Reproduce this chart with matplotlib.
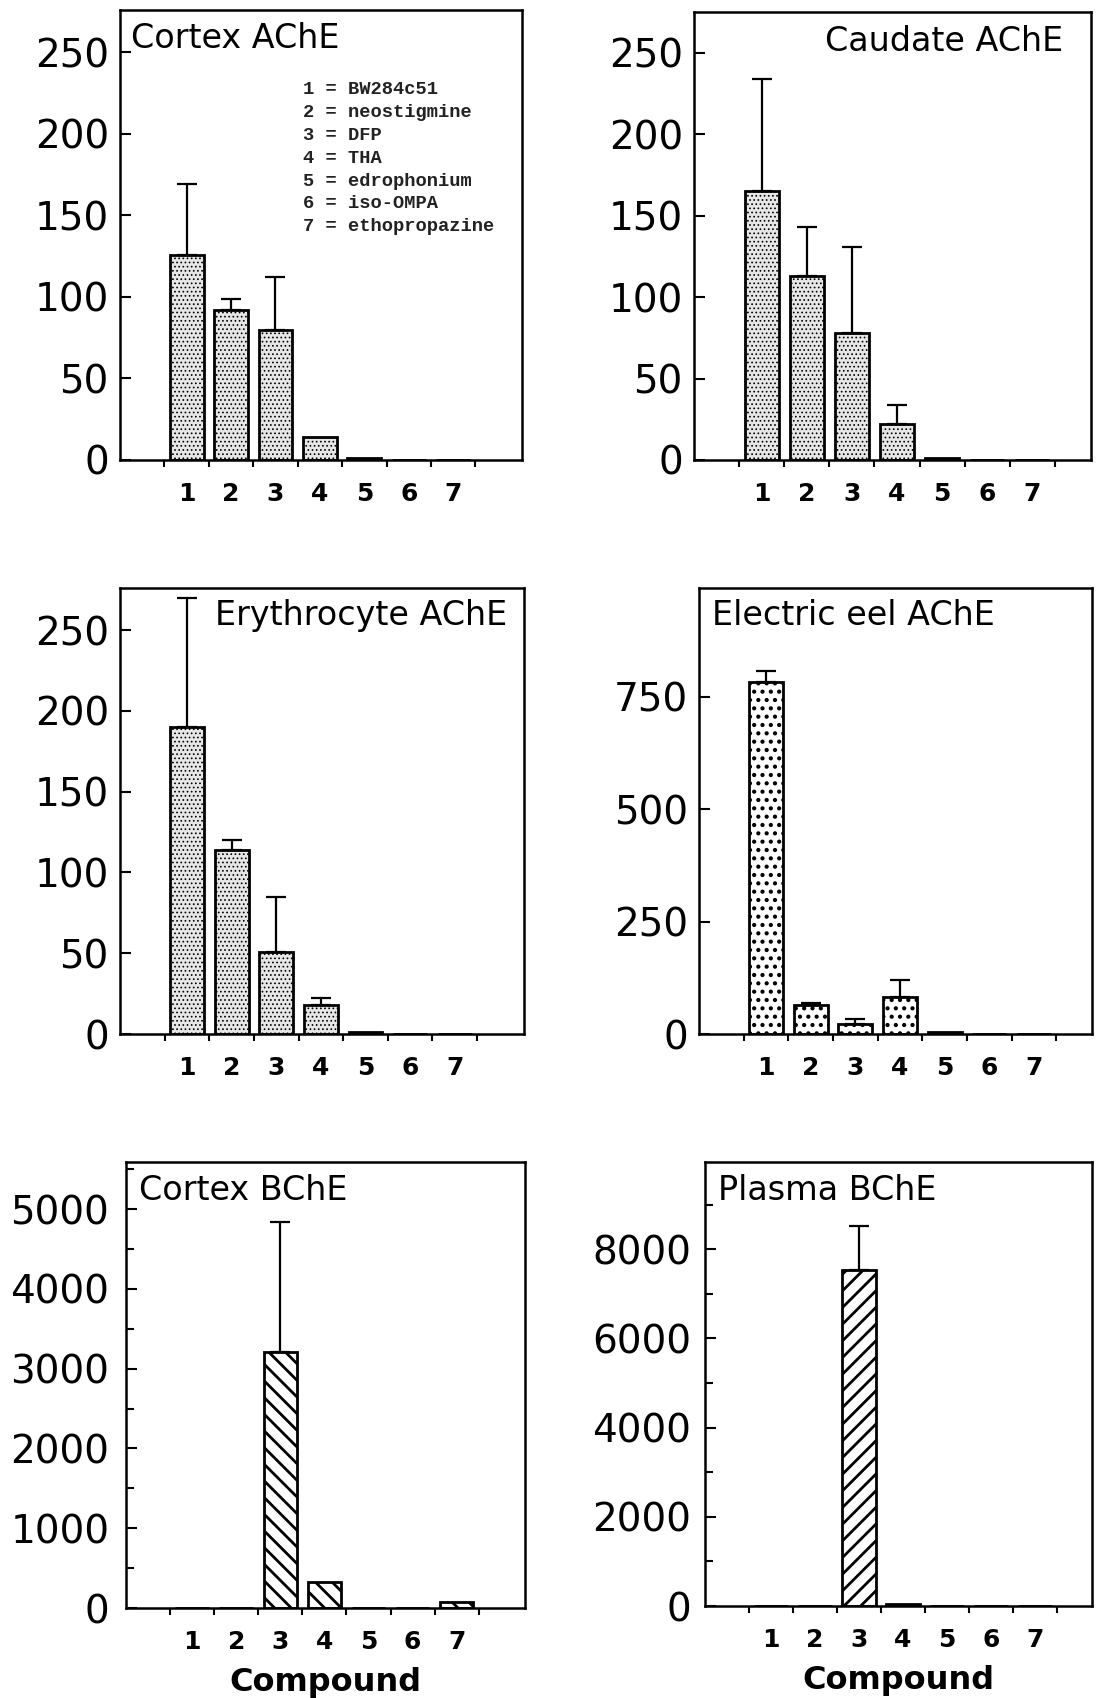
import numpy as np
import matplotlib.pyplot as plt
from matplotlib.ticker import FixedLocator, MultipleLocator

plt.rcParams['font.family'] = ['DejaVu Sans']

# compound numbers and the key shown in the first panel
compounds = ['1', '2', '3', '4', '5', '6', '7']
compound_names = ['BW284c51', 'neostigmine', 'DFP', 'THA',
                  'edrophonium', 'iso-OMPA', 'ethopropazine']

# values (mean, upper error)
cortex_ache = [126, 92, 80, 14, 1, 0, 0]
cortex_ache_err = [43, 7, 32, 0, 0, 0, 0]

caudate_ache = [165, 113, 78, 22, 1, 0, 0]
caudate_ache_err = [69, 30, 53, 12, 0, 0, 0]

erythro_ache = [190, 114, 51, 18, 1, 0, 0]
erythro_ache_err = [80, 6, 34, 4, 0, 0, 0]

eel_ache = [783, 65, 22, 83, 5, 0, 0]
eel_ache_err = [24, 3, 11, 37, 0, 0, 0]

cortex_bche = [0, 0, 3204, 320, 0, 0, 75]
cortex_bche_err = [0, 0, 1633, 0, 0, 0, 0]

plasma_bche = [0, 0, 7530, 40, 0, 0, 0]
plasma_bche_err = [0, 0, 1000, 0, 0, 0, 0]

W, H = 1097, 1698
fig = plt.figure(figsize=(W / 100, H / 100), dpi=100)
fig.patch.set_facecolor('white')


def make_axes(left, right, top, bottom):
    return fig.add_axes([left / W, 1 - bottom / H, (right - left) / W, (bottom - top) / H])


def draw_panel(ax, values, errs, hatch, face, ylim, yticks, xlim, minor=None, ypad=8, hlw=1.0):
    x = np.arange(1, len(values) + 1)
    vals = np.array(values, dtype=float)
    errs = np.array(errs, dtype=float)
    with plt.rc_context({'hatch.linewidth': hlw}):
        bars = ax.bar(x, vals, width=0.76, color=face, edgecolor='black',
                      linewidth=2.0, hatch=hatch, zorder=2)
    for b in bars:
        if hasattr(b, 'set_hatch_linewidth'):
            b.set_hatch_linewidth(hlw)
    m = errs > 0
    ax.errorbar(x[m], vals[m], yerr=[np.zeros(m.sum()), errs[m]], fmt='none',
                ecolor='black', elinewidth=1.6, capsize=7, capthick=1.6, zorder=3)

    ax.set_xlim(*xlim)
    ax.set_ylim(0, ylim)
    ax.set_yticks(yticks)
    if minor:
        ax.yaxis.set_minor_locator(MultipleLocator(minor))
    ax.tick_params(axis='y', which='major', direction='in', length=8, width=1.5,
                   labelsize=28, pad=ypad)
    ax.tick_params(axis='y', which='minor', direction='in', length=6, width=1.5)

    ax.xaxis.set_major_locator(FixedLocator(x))
    ax.set_xticklabels(compounds, fontsize=18, fontweight='bold')
    ax.xaxis.set_minor_locator(FixedLocator(np.arange(0.5, len(values) + 1, 1)))
    ax.tick_params(axis='x', which='major', length=0, pad=16)
    ax.tick_params(axis='x', which='minor', direction='out', length=5, width=1.5)
    for s in ax.spines.values():
        s.set_linewidth(1.8)


def title(ax, text, inset, down, right=False):
    # inset / down in pixels from the frame corner
    if right:
        ax.annotate(text, xy=(1, 1), xycoords='axes fraction',
                    xytext=(-inset * 0.72, -down * 0.72), textcoords='offset points',
                    ha='right', va='top', fontsize=24)
    else:
        ax.annotate(text, xy=(0, 1), xycoords='axes fraction',
                    xytext=(inset * 0.72, -down * 0.72), textcoords='offset points',
                    ha='left', va='top', fontsize=24)


left_x = (-0.5, 8.55)
right_x = (-0.5, 8.3)
small_ticks = [0, 50, 100, 150, 200, 250]

ax1 = make_axes(120, 522, 10, 460)
draw_panel(ax1, cortex_ache, cortex_ache_err, '....', '#e6e6e6', 276, small_ticks, left_x, hlw=0.7)
title(ax1, 'Cortex AChE', 11, 12)
for i, (num, name) in enumerate(zip(compounds, compound_names)):
    ax1.annotate(f'{num} = {name}', xy=(0, 1), xycoords='axes fraction',
                 xytext=(183 * 0.72, -(80 + 22.8 * i) * 0.72), textcoords='offset points',
                 ha='left', va='center', fontsize=13.5, family='Liberation Mono',
                 fontweight='bold', color='#222222')

ax2 = make_axes(694, 1091, 12, 460)
draw_panel(ax2, caudate_ache, caudate_ache_err, '....', '#e6e6e6', 275, small_ticks, right_x, hlw=0.7)
title(ax2, 'Caudate AChE', 28, 13, right=True)

ax3 = make_axes(120, 524, 588, 1034)
draw_panel(ax3, erythro_ache, erythro_ache_err, '....', '#e6e6e6', 276, small_ticks, left_x, hlw=0.7)
title(ax3, 'Erythrocyte AChE', 17, 11, right=True)

ax4 = make_axes(699, 1092, 588, 1034)
draw_panel(ax4, eel_ache, eel_ache_err, '..', 'white', 992, [0, 250, 500, 750], right_x, hlw=1.8)
title(ax4, 'Electric eel AChE', 13, 11)

ax5 = make_axes(126, 525, 1162, 1608)
draw_panel(ax5, cortex_bche, cortex_bche_err, '\\\\', 'white', 5590,
           [0, 1000, 2000, 3000, 4000, 5000], left_x, minor=500, ypad=12, hlw=2.0)
title(ax5, 'Cortex BChE', 13, 12)
ax5.set_xlabel('Compound', fontsize=23, fontweight='bold', labelpad=9)

ax6 = make_axes(705, 1092, 1162, 1606)
draw_panel(ax6, plasma_bche, plasma_bche_err, '//', 'white', 9955,
           [0, 2000, 4000, 6000, 8000], right_x, minor=1000, ypad=10, hlw=2.0)
title(ax6, 'Plasma BChE', 13, 12)
ax6.set_xlabel('Compound', fontsize=23, fontweight='bold', labelpad=9)

fig.savefig('out.png', dpi=100, facecolor='white')
plt.close(fig)
